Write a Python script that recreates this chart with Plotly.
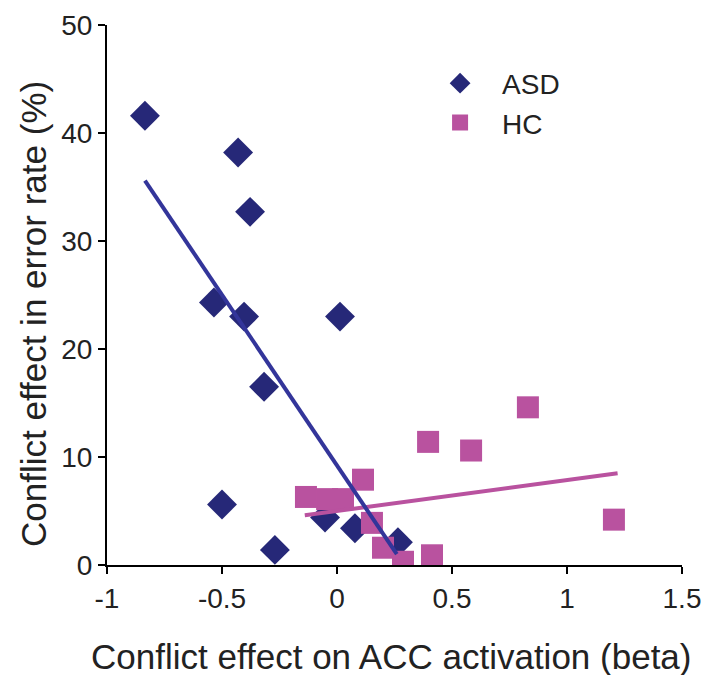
import plotly.graph_objects as go

# ASD group (diamonds)
asd_x = [-0.835, -0.43, -0.378, -0.535, -0.404, 0.013, -0.317, -0.50, -0.27, -0.052, 0.078, 0.265]
asd_y = [41.6, 38.2, 32.7, 24.3, 23.0, 23.0, 16.5, 5.6, 1.4, 4.4, 3.4, 2.1]

# HC group (squares)
hc_x = [-0.135, -0.043, 0.026, 0.113, 0.152, 0.20, 0.287, 0.413, 0.396, 0.583, 0.83, 1.204]
hc_y = [6.3, 6.1, 6.1, 7.9, 3.9, 1.6, 0.3, 0.9, 11.4, 10.6, 14.6, 4.2]

# Regression line endpoints
asd_fit_x = [-0.835, 0.26]
asd_fit_y = [35.6, 1.0]
hc_fit_x = [-0.14, 1.22]
hc_fit_y = [4.6, 8.5]

x_ticks = [-1, -0.5, 0, 0.5, 1, 1.5]
x_tick_labels = ["-1", "-0.5", "0", "0.5", "1", "1.5"]
y_ticks = [0, 10, 20, 30, 40, 50]

x_title = "Conflict effect on ACC activation (beta)"
y_title = "Conflict effect in error rate (%)"

ASD_COLOR = "#262878"
ASD_LINE = "#33359A"
HC_COLOR = "#B9529F"
TEXT = "#222222"

fig = go.Figure()
fig.add_trace(go.Scatter(x=asd_x, y=asd_y, mode="markers", name="ASD",
                         marker=dict(symbol="diamond", size=23, color=ASD_COLOR)))
fig.add_trace(go.Scatter(x=hc_x, y=hc_y, mode="markers", name="HC",
                         marker=dict(symbol="square", size=22, color=HC_COLOR)))
fig.add_trace(go.Scatter(x=hc_fit_x, y=hc_fit_y, mode="lines",
                         line=dict(color=HC_COLOR, width=4), showlegend=False, hoverinfo="skip"))
fig.add_trace(go.Scatter(x=asd_fit_x, y=asd_fit_y, mode="lines",
                         line=dict(color=ASD_LINE, width=4), showlegend=False, hoverinfo="skip"))

font_family = "Liberation Sans, Arial, sans-serif"
axis_common = dict(showgrid=False, zeroline=False, showline=True, linecolor="black", linewidth=2,
                   ticks="outside", ticklen=7, tickwidth=2, tickcolor="black",
                   tickfont=dict(size=28, color=TEXT), automargin=False)
# page body has an 8px margin, so the figure is sized to fit inside the window
fig.update_layout(
    width=701, height=667,
    margin=dict(l=99, r=27, t=17, b=110),
    paper_bgcolor="white", plot_bgcolor="white",
    font=dict(family=font_family, color=TEXT),
    legend=dict(x=0.541, y=0.938, xanchor="left", yanchor="top",
                traceorder="normal", itemwidth=74,
                font=dict(size=28, color=TEXT), bgcolor="rgba(0,0,0,0)"),
    xaxis=dict(range=[-1, 1.5], tickvals=x_ticks, ticktext=x_tick_labels, **axis_common),
    yaxis=dict(range=[0, 50], tickvals=y_ticks, **axis_common),
    annotations=[
        dict(text=x_title, xref="paper", yref="paper", x=0.4948, y=0, xanchor="center",
             yanchor="middle", yshift=-91, showarrow=False, font=dict(size=35, color=TEXT)),
        dict(text=y_title, xref="paper", yref="paper", x=0, y=0.4648, xanchor="center",
             yanchor="middle", xshift=-74, textangle=-90, showarrow=False,
             font=dict(size=35, color=TEXT)),
    ],
)
fig.write_html("out.html")
